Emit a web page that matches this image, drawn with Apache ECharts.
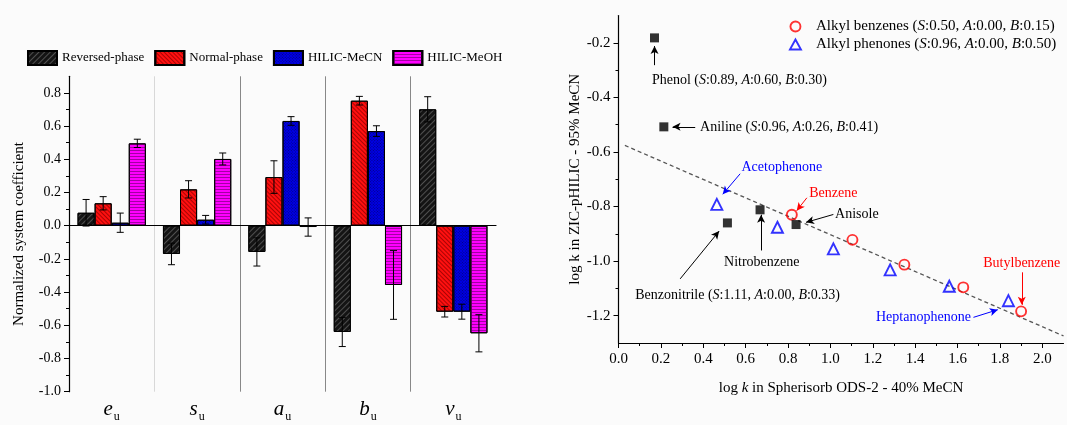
<!DOCTYPE html>
<html>
<head>
<meta charset="utf-8">
<script src="https://cdn.jsdelivr.net/npm/echarts@6/dist/echarts.min.js"></script>
<style>html,body{margin:0;padding:0;background:#fbfbfb}#c{width:1067px;height:425px}</style>
</head>
<body>
<div id="c"></div>
<script>
// ---------- Left panel data ----------
const categories = ['e', 's', 'a', 'b', 'v'];
const seriesNames = ['Reversed-phase', 'Normal-phase', 'HILIC-MeCN', 'HILIC-MeOH'];
const rpValues   = [0.078, -0.170, -0.158, -0.640,  0.701];
const rpErrors   = [0.080,  0.065,  0.085,  0.088,  0.076];
const npValues   = [0.135,  0.219,  0.293,  0.753, -0.518];
const npErrors   = [0.040,  0.052,  0.098,  0.026,  0.032];
const mecnValues = [0.018,  0.036,  0.631,  0.570, -0.518];
const mecnErrors = [0.058,  0.026,  0.026,  0.032,  0.045];
const meohValues = [0.496,  0.402, -0.008, -0.357, -0.648];
const meohErrors = [0.025,  0.036,  0.055,  0.207,  0.112];
const leftMajorTicks = [-1.0, -0.8, -0.6, -0.4, -0.2, 0.0, 0.2, 0.4, 0.6, 0.8];
const leftMinorTicks = [-0.9, -0.7, -0.5, -0.3, -0.1, 0.1, 0.3, 0.5, 0.7];

// ---------- Right panel data ----------
const alkylBenzenes = [[0.818, -0.830], [1.104, -0.922], [1.349, -1.013], [1.627, -1.096], [1.900, -1.184]];
const alkylPhenones = [[0.464, -0.792], [0.750, -0.876], [1.014, -0.955], [1.282, -1.032], [1.561, -1.092], [1.840, -1.145]];
const otherSolutes  = [[0.170, -0.182], [0.214, -0.508], [0.514, -0.860], [0.668, -0.812], [0.838, -0.866]];
const fitLine       = [[0.03, -0.576], [2.10, -1.274]];
const rightXMajor = [0.0, 0.2, 0.4, 0.6, 0.8, 1.0, 1.2, 1.4, 1.6, 1.8, 2.0];
const rightXMinor = [0.1, 0.3, 0.5, 0.7, 0.9, 1.1, 1.3, 1.5, 1.7, 1.9];
const rightYMajor = [-1.2, -1.0, -0.8, -0.6, -0.4, -0.2];
const rightYMinor = [-1.1, -0.9, -0.7, -0.5, -0.3];
const legendRight = ['Alkyl benzenes (S:0.50, A:0.00, B:0.15)', 'Alkyl phenones (S:0.96, A:0.00, B:0.50)'];
// annotations: text, anchor (data coords), arrow from -> to (data coords)
const annotations = [
  {text: 'Phenol (S:0.89, A:0.60, B:0.30)', color: '#000', at: [0.158, -0.337], pos: 'right', arrow: [[0.170, -0.282], [0.170, -0.212]]},
  {text: 'Aniline (S:0.96, A:0.26, B:0.41)', color: '#000', at: [0.385, -0.508], pos: 'right', arrow: [[0.362, -0.508], [0.255, -0.508]]},
  {text: 'Acetophenone', color: '#0000ff', at: [0.771, -0.655], pos: 'inside', arrow: [[0.574, -0.680], [0.492, -0.755]]},
  {text: 'Benzene', color: '#ff0000', at: [0.900, -0.750], pos: 'right', arrow: [[0.889, -0.768], [0.841, -0.815]]},
  {text: 'Anisole', color: '#000', at: [1.022, -0.827], pos: 'right', arrow: [[1.014, -0.829], [0.885, -0.858]]},
  {text: 'Nitrobenzene', color: '#000', at: [0.676, -1.004], pos: 'inside', arrow: [[0.673, -0.961], [0.673, -0.830]]},
  {text: 'Benzonitrile (S:1.11, A:0.00, B:0.33)', color: '#000', at: [0.079, -1.127], pos: 'right', arrow: [[0.291, -1.065], [0.475, -0.890]]},
  {text: 'Butylbenzene', color: '#ff0000', at: [1.903, -1.008], pos: 'inside', arrow: [[1.903, -1.041], [1.903, -1.160]]},
  {text: 'Heptanophenone', color: '#0000ff', at: [1.439, -1.206], pos: 'inside', arrow: [[1.675, -1.206], [1.790, -1.178]]}
];

const FONT = 'Liberation Serif';
function richify(t) {
  return '{n|' + t.replace(/([SAB]):/g, '}{i|$1}{n|:') + '}';
}

// layout (pixels)
const W = 1067, H = 425;
const gridL = {left: 69, right: 571, top: 76.3, bottom: 33.3};
const gridR = {left: 618.5, right: 3.5, top: 15.5, bottom: 82};
const gLW = W - gridL.left - gridL.right, gRW = W - gridR.left - gridR.right;
const gRH = H - gridR.top - gridR.bottom;

const barValues = [rpValues, npValues, mecnValues, meohValues];
const barErrors = [rpErrors, npErrors, mecnErrors, meohErrors];
const barColors = ['#141414', '#ff1010', '#0000e6', '#ff00ff'];
const barDecals = [
  {symbol: 'rect', symbolSize: 1, dashArrayX: [1, 0], dashArrayY: [1, 3], rotation: -Math.PI / 4, color: 'rgba(85,85,85,0.9)'},
  {symbol: 'rect', symbolSize: 1, dashArrayX: [1, 0], dashArrayY: [1, 2], rotation: Math.PI / 4, color: 'rgba(140,0,0,0.75)'},
  {symbol: 'rect', symbolSize: 1, dashArrayX: [1, 1], dashArrayY: [1, 1], rotation: Math.PI / 4, color: 'rgba(0,0,90,0.7)'},
  {symbol: 'rect', symbolSize: 1, dashArrayX: [1, 0], dashArrayY: [1, 2], rotation: 0, color: 'rgba(140,0,140,0.8)'}
];

const errData = [];
barValues.forEach((vals, si) => vals.forEach((v, ci) => errData.push([ci, v, barErrors[si][ci], si])));

const series = [];
seriesNames.forEach((name, si) => {
  series.push({
    type: 'bar', name, xAxisIndex: 0, yAxisIndex: 0,
    data: barValues[si], barWidth: '20%', barGap: '0%',
    itemStyle: {color: barColors[si], borderColor: '#000', borderWidth: 1, decal: barDecals[si]},
    markLine: si === 0 ? {silent: true, symbol: 'none', label: {show: false},
      lineStyle: {color: '#000', width: 1, type: 'solid'}, data: [{yAxis: 0}]} : undefined,
    z: 2
  });
});
series.push({
  type: 'custom', name: 'err', xAxisIndex: 0, yAxisIndex: 0, z: 5,
  data: errData,
  renderItem: function (params, api) {
    const ci = api.value(0), v = api.value(1), e = api.value(2), si = api.value(3);
    const band = api.size([1, 0])[0];
    const x = api.coord([ci, 0])[0] + (si - 1.5) * band * 0.2;
    const yt = api.coord([ci, v + e])[1];
    const yb = api.coord([ci, v - e])[1];
    const st = {stroke: '#000', lineWidth: 1};
    return {type: 'group', children: [
      {type: 'line', shape: {x1: x, y1: yt, x2: x, y2: yb}, style: st},
      {type: 'line', shape: {x1: x - 3.5, y1: yt, x2: x + 3.5, y2: yt}, style: st},
      {type: 'line', shape: {x1: x - 3.5, y1: yb, x2: x + 3.5, y2: yb}, style: st}
    ]};
  }
});

// right panel
series.push({
  type: 'line', name: 'fit', xAxisIndex: 1, yAxisIndex: 2, data: fitLine, symbol: 'none',
  lineStyle: {color: '#555', width: 1.3, type: [4, 3]}, z: 1, silent: true
});
series.push({
  type: 'scatter', name: legendRight[0], xAxisIndex: 1, yAxisIndex: 2, data: alkylBenzenes,
  symbol: 'circle', symbolSize: 10,
  itemStyle: {color: 'rgba(255,255,255,0)', borderColor: '#ff0000', borderWidth: 1.9}, z: 4
});
series.push({
  type: 'scatter', name: legendRight[1], xAxisIndex: 1, yAxisIndex: 2, data: alkylPhenones,
  symbol: 'triangle', symbolSize: 11,
  itemStyle: {color: 'rgba(255,255,255,0)', borderColor: '#0000ff', borderWidth: 1.9}, z: 4
});
const richAnn = {n: {fontFamily: FONT, fontSize: 14}, i: {fontFamily: FONT, fontSize: 14, fontStyle: 'italic'}};
series.push({
  type: 'scatter', name: 'others', xAxisIndex: 1, yAxisIndex: 2, data: otherSolutes,
  symbol: 'rect', symbolSize: 9, itemStyle: {color: '#000'}, z: 4,
  markLine: {
    silent: true, symbol: ['none', 'arrow'], symbolSize: [6, 8], label: {show: false},
    data: annotations.map(a => [
      {coord: a.arrow[0], lineStyle: {color: a.color, width: 1, type: 'solid'}},
      {coord: a.arrow[1]}
    ])
  },
  markPoint: {
    silent: true, symbol: 'circle', symbolSize: 0,
    data: annotations.map(a => ({
      coord: a.at,
      label: {show: true, position: a.pos, distance: 0, color: a.color,
        formatter: richify(a.text),
        rich: {n: Object.assign({color: a.color}, richAnn.n), i: Object.assign({color: a.color}, richAnn.i)}}
    }))
  }
});

const option = {
  backgroundColor: '#fbfbfb',
  animation: false,
  textStyle: {fontFamily: FONT},
  legend: [
    {
      data: seriesNames.map(n => ({name: n, icon: 'rect'})), left: 22, top: 45, itemWidth: 29, itemHeight: 14, itemGap: 10,
      textStyle: {fontFamily: FONT, fontSize: 13, color: '#000'}, selectedMode: false
    },
    {
      data: [
        {name: legendRight[0], icon: 'circle', itemStyle: {color: 'rgba(255,255,255,0)', borderColor: '#ff0000', borderWidth: 1.9}},
        {name: legendRight[1], icon: 'triangle', itemStyle: {color: 'rgba(255,255,255,0)', borderColor: '#0000ff', borderWidth: 1.9}}
      ],
      orient: 'vertical', left: 784, top: 14, itemWidth: 11, itemHeight: 10, itemGap: 3,
      formatter: n => richify(n),
      textStyle: {fontFamily: FONT, fontSize: 15, color: '#000', padding: [0, 0, 0, 10],
        rich: {n: {fontFamily: FONT, fontSize: 15}, i: {fontFamily: FONT, fontSize: 15, fontStyle: 'italic'}}},
      selectedMode: false
    }
  ],
  grid: [gridL, gridR],
  xAxis: [
    {
      type: 'category', gridIndex: 0, data: categories, position: 'bottom',
      axisLine: {lineStyle: {color: '#000', width: 1.2}},
      axisTick: {alignWithLabel: true, length: 5, lineStyle: {color: '#000'}},
      splitLine: {show: true, interval: 0, lineStyle: {color: ['#888', '#d8d8d8', '#888', '#888', '#888', 'rgba(0,0,0,0)'], width: 1}},
      axisLabel: {
        margin: 5, formatter: v => '{i|' + v + '}{u|u}',
        rich: {
          i: {fontFamily: FONT, fontSize: 21, fontStyle: 'italic', color: '#000'},
          u: {fontFamily: FONT, fontSize: 12, color: '#000', padding: [14, 0, 0, 1]}
        }
      }
    },
    {
      type: 'value', gridIndex: 1, min: 0, max: 2.1, interval: 0.2, position: 'bottom',
      axisLine: {onZero: false, lineStyle: {color: '#000', width: 1.2}},
      axisTick: {customValues: rightXMajor, length: 5, lineStyle: {color: '#000'}},
      splitLine: {show: false},
      axisLabel: {customValues: rightXMajor, formatter: v => v.toFixed(1), margin: 9,
        fontFamily: FONT, fontSize: 15, color: '#000'},
      name: '{n|log }{i|k}{n| in Spherisorb ODS-2 - 40% MeCN}', nameLocation: 'middle', nameGap: 38,
      nameTextStyle: {fontFamily: FONT, fontSize: 15, color: '#000',
        rich: {n: {fontFamily: FONT, fontSize: 15}, i: {fontFamily: FONT, fontSize: 15, fontStyle: 'italic'}}}
    },
    {
      // minor ticks: placed on the top slot, shifted down onto the bottom axis line
      type: 'value', gridIndex: 1, min: 0, max: 2.1, interval: 0.1, position: 'top', offset: -gRH,
      axisLine: {show: false, onZero: false}, axisLabel: {show: false}, splitLine: {show: false},
      axisTick: {inside: true, customValues: rightXMinor, length: 3, lineStyle: {color: '#000'}}
    }
  ],
  yAxis: [
    {
      type: 'value', gridIndex: 0, min: -1.0, max: 0.9, interval: 0.1, position: 'left',
      axisLine: {show: true, onZero: false, lineStyle: {color: '#000', width: 1.2}},
      axisTick: {show: true, customValues: leftMajorTicks, length: 5, lineStyle: {color: '#000'}},
      axisLabel: {customValues: leftMajorTicks, formatter: v => v.toFixed(1), margin: 8,
        fontFamily: FONT, fontSize: 14, color: '#000'},
      splitLine: {show: false},
      name: 'Normalized system coefficient', nameLocation: 'middle', nameGap: 42,
      nameTextStyle: {fontFamily: FONT, fontSize: 15, color: '#000'}
    },
    {
      type: 'value', gridIndex: 0, min: -1.0, max: 0.9, interval: 0.1, position: 'right', offset: -gLW,
      axisLine: {show: false, onZero: false}, axisLabel: {show: false}, splitLine: {show: false},
      axisTick: {show: true, inside: true, customValues: leftMinorTicks, length: 3, lineStyle: {color: '#000'}}
    },
    {
      type: 'value', gridIndex: 1, min: -1.3, max: -0.1, interval: 0.1, position: 'left',
      axisLine: {show: true, onZero: false, lineStyle: {color: '#000', width: 1.2}},
      axisTick: {show: true, customValues: rightYMajor, length: 5, lineStyle: {color: '#000'}},
      axisLabel: {customValues: rightYMajor, formatter: v => v.toFixed(1), margin: 8,
        fontFamily: FONT, fontSize: 15, color: '#000'},
      splitLine: {show: false},
      name: 'log k in ZIC-pHILIC - 95% MeCN', nameLocation: 'middle', nameGap: 36,
      nameTextStyle: {fontFamily: FONT, fontSize: 15, color: '#000'}
    },
    {
      type: 'value', gridIndex: 1, min: -1.3, max: -0.1, interval: 0.1, position: 'right', offset: -gRW,
      axisLine: {show: false, onZero: false}, axisLabel: {show: false}, splitLine: {show: false},
      axisTick: {show: true, inside: true, customValues: rightYMinor, length: 3, lineStyle: {color: '#000'}}
    }
  ],
  series
};
const chart = echarts.init(document.getElementById('c'), null, {renderer: 'canvas'});
chart.setOption(option);
</script>
</body>
</html>
